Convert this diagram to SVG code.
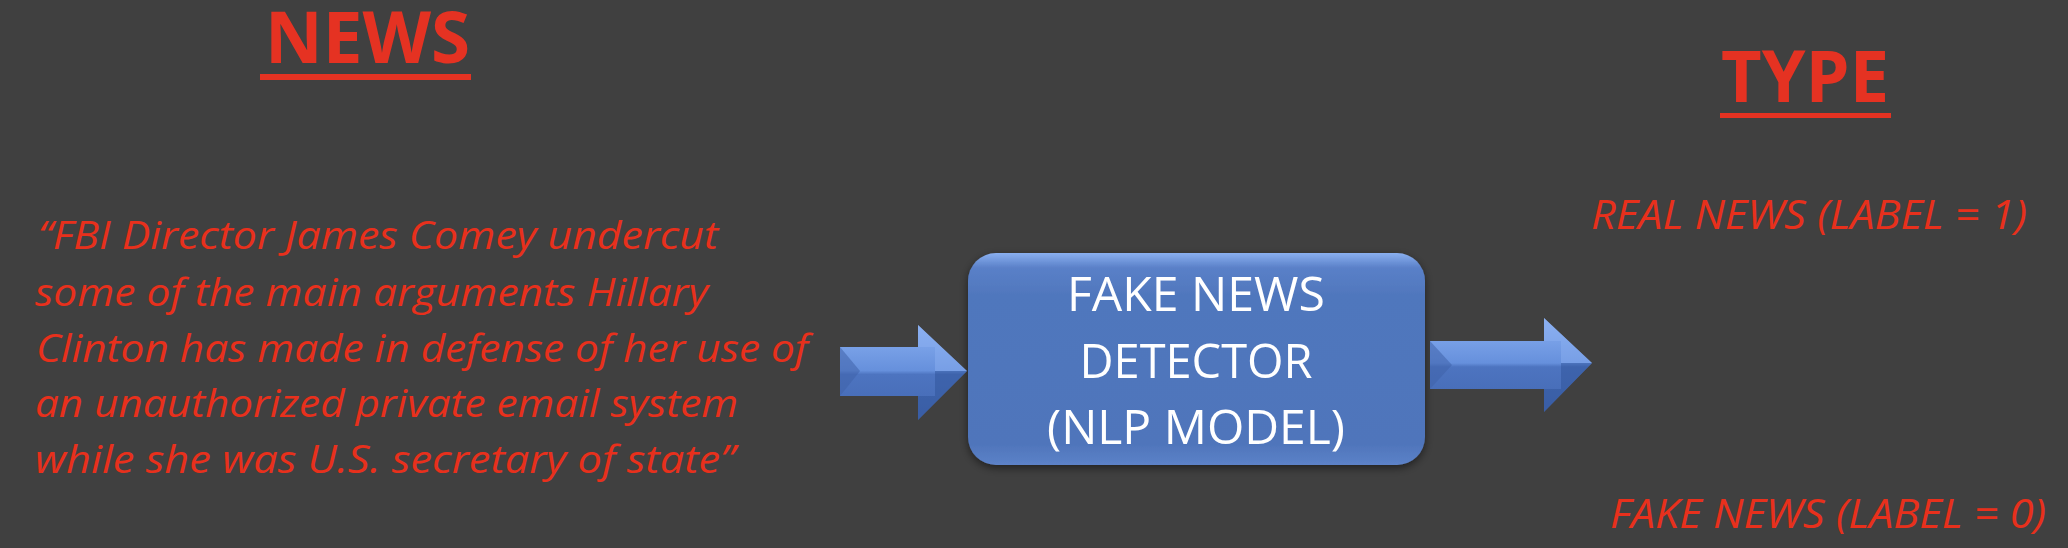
<svg xmlns="http://www.w3.org/2000/svg" width="2068" height="548" viewBox="0 0 2068 548">
<style>
.hdr{font-family:"Open Sans","Liberation Sans",sans-serif;font-weight:700;font-size:72px;fill:#e53222}
.lbl{font-family:"Open Sans","Liberation Sans",sans-serif;font-style:italic;font-weight:400;font-size:41px;fill:#e8301c}
.quote{font-family:"Open Sans","Liberation Sans",sans-serif;font-style:italic;font-weight:400;font-size:39px;fill:#e8301c}
.box{font-family:"Open Sans","Liberation Sans",sans-serif;font-weight:400;font-size:47px;fill:#ffffff;text-anchor:middle}
.ul{fill:#e53222}
.facetL{fill:#3f63aa;opacity:0.55}
.facetH{fill:#8db1f2;opacity:0.45}
.facetD{fill:#2c4f95;opacity:0.45}
</style>
<defs>
<linearGradient id="boxg" x1="0" y1="0" x2="0" y2="1">
<stop offset="0" stop-color="#8ab0f0"/>
<stop offset="0.07" stop-color="#5a80c8"/>
<stop offset="0.2" stop-color="#5077bd"/>
<stop offset="0.9" stop-color="#4f75bb"/>
<stop offset="1" stop-color="#5c82c8"/>
</linearGradient>
<linearGradient id="arrg" x1="0" y1="0" x2="0" y2="1">
<stop offset="0" stop-color="#8ab0f2"/>
<stop offset="0.48" stop-color="#6690dc"/>
<stop offset="0.52" stop-color="#4d74c0"/>
<stop offset="1" stop-color="#4469b3"/>
</linearGradient>
<filter id="sh" x="-10%" y="-10%" width="120%" height="130%">
<feGaussianBlur in="SourceAlpha" stdDeviation="4"/>
<feOffset dy="3"/>
<feComponentTransfer><feFuncA type="linear" slope="0.5"/></feComponentTransfer>
<feMerge><feMergeNode/><feMergeNode in="SourceGraphic"/></feMerge>
</filter>
</defs>
<rect width="2068" height="548" fill="#404040"/>

<g id="news-title">
<text class="hdr" x="265" y="63" textLength="205" lengthAdjust="spacingAndGlyphs">NEWS</text>
<rect class="ul" x="260" y="74" width="211" height="6"/>
</g>

<g id="type-title">
<text class="hdr" x="1721" y="102" textLength="168" lengthAdjust="spacingAndGlyphs">TYPE</text>
<rect class="ul" x="1720" y="113" width="171" height="5"/>
</g>

<g id="news-quote">
<text class="quote" x="38" y="249" textLength="680" lengthAdjust="spacingAndGlyphs">“FBI Director James Comey undercut</text>
<text class="quote" x="35" y="306" textLength="673" lengthAdjust="spacingAndGlyphs">some of the main arguments Hillary</text>
<text class="quote" x="36" y="362" textLength="772" lengthAdjust="spacingAndGlyphs">Clinton has made in defense of her use of</text>
<text class="quote" x="35" y="417" textLength="703" lengthAdjust="spacingAndGlyphs">an unauthorized private email system</text>
<text class="quote" x="35" y="473" textLength="700" lengthAdjust="spacingAndGlyphs">while she was U.S. secretary of state”</text>
</g>

<g id="detector" filter="url(#sh)">
<rect x="968" y="253" width="457" height="212" rx="28" ry="28" fill="url(#boxg)"/>
<text class="box" x="1196" y="311" textLength="258" lengthAdjust="spacingAndGlyphs">FAKE NEWS</text>
<text class="box" x="1196" y="378" textLength="233" lengthAdjust="spacingAndGlyphs">DETECTOR</text>
<text class="box" x="1196" y="444" textLength="298" lengthAdjust="spacingAndGlyphs">(NLP MODEL)</text>
</g>

<g id="real-label">
<text class="lbl" x="1591" y="229" textLength="436" lengthAdjust="spacingAndGlyphs">REAL NEWS (LABEL = 1)</text>
</g>

<g id="fake-label">
<text class="lbl" x="1610" y="528" textLength="436" lengthAdjust="spacingAndGlyphs">FAKE NEWS (LABEL = 0)</text>
</g>

<g id="connectors">
<g id="arrow-in">
<polygon points="840,347 918,347 918,325 967,371 918,420 918,396 840,396" fill="url(#arrg)"/>
<polygon class="facetL" points="840,347 860,371 840,396"/>
<polygon class="facetH" points="918,325 967,371 935,371 935,347 918,347"/>
<polygon class="facetD" points="918,420 967,371 935,371 935,396 918,396"/>
</g>
<g id="arrow-out">
<polygon points="1430,341 1544,341 1544,318 1592,363 1544,412 1544,389 1430,389" fill="url(#arrg)"/>
<polygon class="facetL" points="1430,341 1452,365 1430,389"/>
<polygon class="facetH" points="1544,318 1592,363 1561,363 1561,341 1544,341"/>
<polygon class="facetD" points="1544,412 1592,363 1561,363 1561,389 1544,389"/>
</g>
</g>
</svg>
